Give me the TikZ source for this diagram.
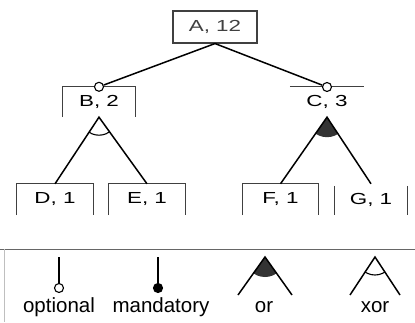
\documentclass[tikz,border=0pt]{standalone}
\usepackage{fontspec}
\setmainfont{Liberation Sans}
\newfontfamily\treefont{Liberation Sans}[FakeStretch=1.4]
\usetikzlibrary{positioning}

\tikzset{
	feat/.style={minimum width=76pt, minimum height=31pt, inner sep=0pt,
		font=\treefont\fontsize{16}{18}\selectfont},
	edgeline/.style={line width=1.5pt},
	frame/.style={line width=1.1pt, black!75},
	opt/.style={circle, draw, line width=1.1pt, fill=white, inner sep=0pt, minimum size=9pt},
	mand/.style={circle, draw, line width=1.1pt, fill=black, inner sep=0pt, minimum size=9pt},
	legtext/.style={anchor=base, font=\fontsize{20.5}{24}\selectfont}
}

\begin{document}
\begin{tikzpicture}[x=1pt, y=1pt]
		\useasboundingbox (0,0) rectangle (415,322);
		\fill[white] (0,0) rectangle (415,322);

		% features
		\draw (215,295) node [feat, draw, frame, minimum width=84pt, minimum height=32pt] (a) {A, 12};
		\draw (99,220) node [feat, minimum width=72pt, minimum height=30pt] (b) {B, 2};
		\draw (327,220) node [feat, minimum width=74pt, minimum height=30pt] (c) {C, 3};
		\draw (55,122.5) node [feat] (d) {D, 1};
		\draw (147,122.5) node [feat] (e) {E, 1};
		\draw (280.5,122.5) node [feat, minimum width=75pt] (f) {F, 1};
		\draw (371,122.5) node [feat, minimum width=72pt] (g) {G, 1};

		% open boxes
		\draw [frame] (b.south west) |- (b.north east) -- (b.south east);
		\draw [frame] (c.north west) -- (c.north east);
		\draw [frame] (d.south west) |- (d.north east) -- (d.south east);
		\draw [frame] (e.south west) |- (e.north east) -- (e.south east);
		\draw [frame] (f.south west) |- (f.north east) -- (f.south east);
		\draw [frame] (g.north west) ++(0,-2) -- (g.south west)
			(g.north east) ++(0,-2) -- (g.south east);

		% xor group under b
		\begin{scope}
			\clip (b.south) -- (d.north) -- (e.north) -- cycle;
			\draw [line width=1.1pt] (b.south) circle (18);
		\end{scope}
		\draw [edgeline] (d.north) -- (b.south) -- (e.north);

		% or group under c
		\begin{scope}
			\clip (c.south) -- (f.north) -- (g.north) -- cycle;
			\fill [black!80] (c.south) circle (20);
		\end{scope}
		\draw [edgeline] (f.north) -- (c.south) -- (g.north);

		% optional children of a
		\node [opt] (ob) at (b.north) {};
		\node [opt] (oc) at (327,235) {};
		\draw [edgeline] (a.south) -- (ob);
		\draw [edgeline] (a.south) -- (oc);

		% legend
		\draw [line width=1pt, black!60] (0,73) -- (415,73);
		\draw [line width=0.8pt, black!25] (4,73) -- (4,0);

		\coordinate (lo) at (59,65);
		\node [opt] (loc) at (59,34) {};
		\draw [line width=1.1pt] (lo) -- (loc);
		\node [legtext] at (59,10) {optional};

		\coordinate (lm) at (158,65);
		\node [mand] (lmc) at (158,34) {};
		\draw [line width=1.5pt] (lm) -- (lmc);
		\node [legtext] at (161,10) {mandatory};

		\coordinate (lor) at (265,65);
		\coordinate (lorl) at (238,27);
		\coordinate (lorr) at (292,27);
		\begin{scope}
			\clip (lor) -- (lorl) -- (lorr) -- cycle;
			\fill [black!80] (lor) circle (20);
		\end{scope}
		\draw [edgeline] (lorl) -- (lor) -- (lorr);
		\node [legtext] at (264,10) {or};

		\coordinate (lx) at (375,65);
		\coordinate (lxl) at (350,27);
		\coordinate (lxr) at (400,27);
		\begin{scope}
			\clip (lx) -- (lxl) -- (lxr) -- cycle;
			\draw [line width=1.1pt] (lx) circle (18);
		\end{scope}
		\draw [edgeline] (lxl) -- (lx) -- (lxr);
		\node [legtext] at (375,10) {xor};
	\end{tikzpicture}
\end{document}
